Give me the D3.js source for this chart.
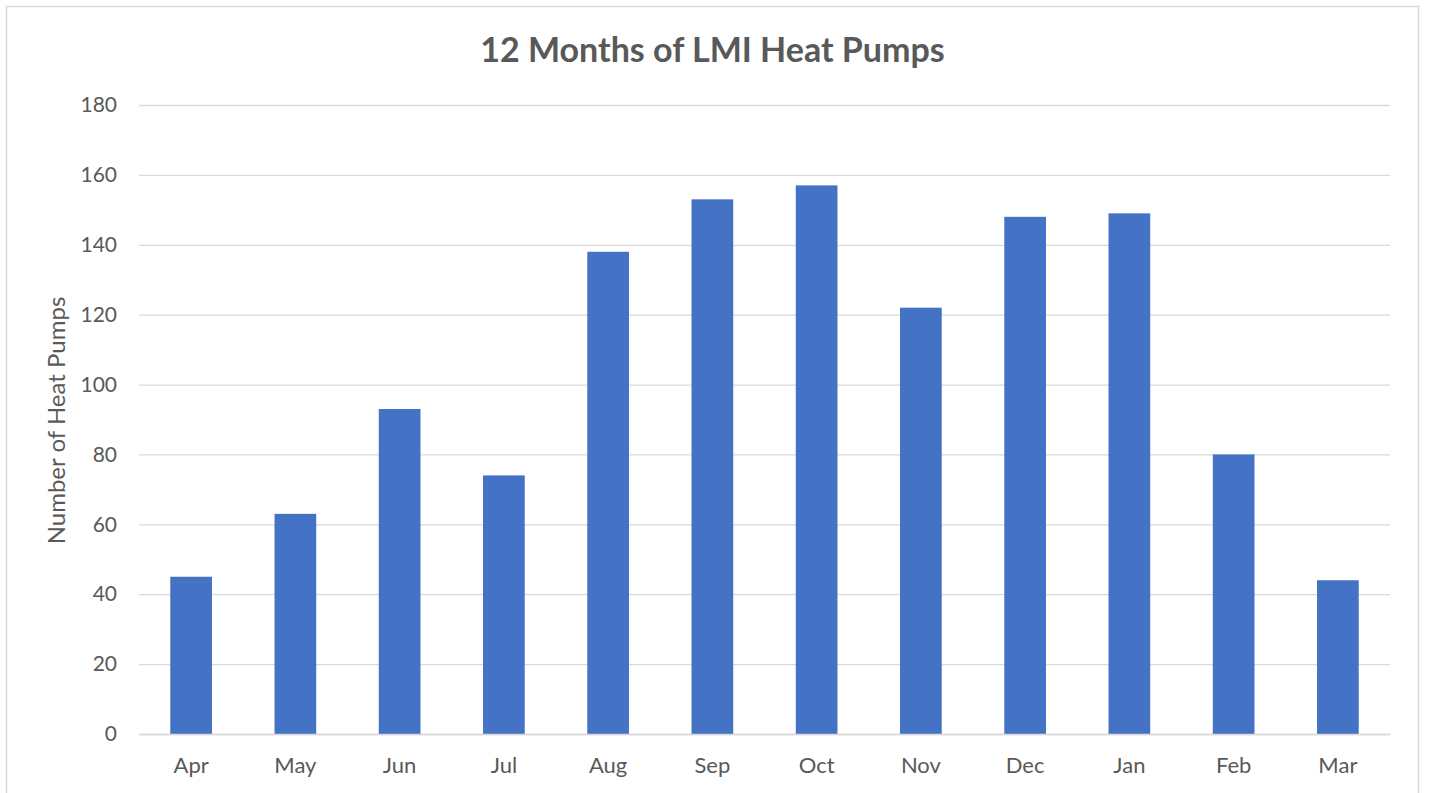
<!DOCTYPE html>
<html>
<head>
<meta charset="utf-8">
<script src="https://cdn.jsdelivr.net/npm/d3@7"></script>
<style>
  html, body { margin: 0; padding: 0; background: #fff; }
  svg { display: block; }
  text { font-family: Lato, "Open Sans", sans-serif; }
</style>
</head>
<body>
<svg id="chart" width="1429" height="793"></svg>
<script>
const months = ["Apr","May","Jun","Jul","Aug","Sep","Oct","Nov","Dec","Jan","Feb","Mar"];
const heatPumps = [45, 63, 93, 74, 138, 153, 157, 122, 148, 149, 80, 44];
const yTicks = [0, 20, 40, 60, 80, 100, 120, 140, 160, 180];
const chartTitle = "12 Months of LMI Heat Pumps";
const yAxisTitle = "Number of Heat Pumps";

const svg = d3.select("#chart");
const m = { left: 139, right: 1390, top: 105, bottom: 734 };

// chart border
svg.append("rect")
  .attr("x", 6.5).attr("y", 6.5)
  .attr("width", 1412).attr("height", 800)
  .attr("fill", "#fff").attr("stroke", "#d9d9d9").attr("stroke-width", 1.5);

const x = d3.scaleBand().domain(months).range([m.left, m.right])
  .paddingInner(0.6).paddingOuter(0.3);
const y = d3.scaleLinear().domain([0, 180]).range([m.bottom, m.top]);

// gridlines
const yAxis = d3.axisLeft(y).tickValues(yTicks).tickSize(-(m.right - m.left)).tickPadding(22);
const gy = svg.append("g").attr("transform", `translate(${m.left},0)`).call(yAxis);
gy.select(".domain").remove();
gy.selectAll(".tick line").attr("stroke", "#d9d9d9").attr("stroke-width", 1.3);
gy.selectAll(".tick text").attr("fill", "#595959").style("font-size", "21px");

// bars
svg.append("g").selectAll("rect").data(heatPumps).join("rect")
  .attr("x", (d, i) => x(months[i]))
  .attr("y", d => y(d))
  .attr("width", x.bandwidth())
  .attr("height", d => y(0) - y(d))
  .attr("fill", "#4472c4");

// x axis
const xAxis = d3.axisBottom(x).tickSize(0).tickPadding(23);
const gx = svg.append("g").attr("transform", `translate(0,${m.bottom})`).call(xAxis);
gx.select(".domain").attr("stroke", "#d9d9d9").attr("stroke-width", 1.3);
gx.selectAll(".tick text").attr("fill", "#595959").style("font-size", "22px");

// title
svg.append("text")
  .attr("x", (m.left + m.right) / 2 - 52).attr("y", 62)
  .attr("text-anchor", "middle")
  .attr("fill", "#595959")
  .style("font-size", "34px").style("font-weight", "bold")
  .text(chartTitle);

// y axis title
svg.append("text")
  .attr("transform", `translate(65,${(m.top + m.bottom) / 2 + 1}) rotate(-90)`)
  .attr("text-anchor", "middle")
  .attr("fill", "#595959")
  .style("font-size", "24px")
  .text(yAxisTitle);
</script>
</body>
</html>
